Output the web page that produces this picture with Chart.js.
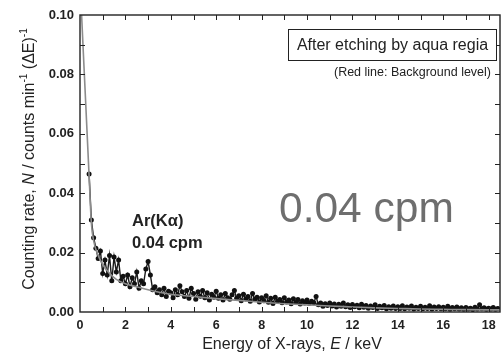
<!DOCTYPE html>
<html><head><meta charset="utf-8">
<script src="https://cdn.jsdelivr.net/npm/chart.js@4/dist/chart.umd.min.js"></script>
<style>html,body{margin:0;padding:0;background:#fff}#wrap{width:504px;height:354px;position:relative}</style>
</head><body><div id="wrap"><canvas id="c" width="504" height="354"></canvas></div>
<script>
// Measured spectrum: channel grid start/step (keV) and counting rates
const energyStart = 0.4;
const energyStep = 0.1;
const countRates = [
  0.0465, 0.031, 0.025, 0.0215, 0.018, 0.0205,
  0.013, 0.0175, 0.0125, 0.019, 0.0105, 0.0185, 0.0135, 0.0175, 0.0105, 0.012,
  0.0095, 0.0125, 0.0085, 0.0115, 0.0095, 0.0135, 0.008, 0.0105, 0.0095, 0.0145,
  0.017, 0.0125, 0.0075, 0.0085, 0.0065, 0.0075, 0.0058, 0.0080, 0.0052, 0.0070,
  0.0065, 0.0048, 0.0075, 0.0058, 0.0088, 0.0068, 0.0052, 0.0072, 0.0046, 0.0080,
  0.0062, 0.0043, 0.0068, 0.0053, 0.0072, 0.0048, 0.0065, 0.0040, 0.0060, 0.0050,
  0.0070, 0.0046, 0.0058, 0.0040, 0.0062, 0.0048, 0.0043, 0.0058, 0.0072, 0.0046,
  0.0055, 0.0038, 0.0060, 0.0044, 0.0052, 0.0036, 0.0062, 0.0043, 0.0050, 0.0034,
  0.0048, 0.0038, 0.0055, 0.0033, 0.0046, 0.0029, 0.0050, 0.0036, 0.0042, 0.0031,
  0.0048, 0.0034, 0.0040, 0.0028, 0.0045, 0.0032, 0.0042, 0.0027, 0.0038, 0.0030,
  0.0040, 0.0029, 0.0036, 0.0031, 0.0052, 0.0024, 0.0030, 0.0019, 0.0028, 0.0022,
  0.0030, 0.0020, 0.0027, 0.0017, 0.0026, 0.0019, 0.0030, 0.0018, 0.0024, 0.0015,
  0.0025, 0.0018, 0.0023, 0.0014, 0.0026, 0.0016, 0.0022, 0.0013, 0.0020, 0.0015,
  0.0024, 0.0012, 0.0019, 0.0014, 0.0022, 0.0011, 0.0018, 0.0013, 0.0020, 0.0012,
  0.0018, 0.0012, 0.0021, 0.0011, 0.0017, 0.0013, 0.0020, 0.0010, 0.0016, 0.0012,
  0.0019, 0.0011, 0.0016, 0.0012, 0.0021, 0.0010, 0.0017, 0.0012, 0.0018, 0.0011,
  0.0016, 0.0011, 0.0019, 0.0009, 0.0015, 0.0011, 0.0017, 0.0010, 0.0014, 0.0009,
  0.0015, 0.0010, 0.0013, 0.0008, 0.0016, 0.0010, 0.0024, 0.0011, 0.0014, 0.0009,
  0.0013, 0.0010, 0.0015, 0.0009, 0.0012
];
// Background level curve
const bgEnergy = [0.07, 0.4, 0.5, 0.6, 0.8, 1.0, 1.3, 1.6, 2.0, 2.5, 3.0, 4.0, 5.0, 6.0, 7.0, 8.0, 9.0, 10.0, 11.0, 12.0, 13.0, 14.0, 15.0, 16.0, 17.0, 18.5];
const bgRate   = [0.100, 0.046, 0.030, 0.024, 0.019, 0.016, 0.013, 0.011, 0.0095, 0.0085, 0.0075, 0.006, 0.0052, 0.0045, 0.0039, 0.0033, 0.0028, 0.0024, 0.0020, 0.0017, 0.0014, 0.0012, 0.0010, 0.0009, 0.0008, 0.0007];
const xTickLabels = ['0','2','4','6','8','10','12','14','16','18'];
const yTickLabels = ['0.00','0.02','0.04','0.06','0.08','0.10'];

const dataPts = countRates.map((v, i) => ({x: +(energyStart + i * energyStep).toFixed(2), y: v}));
const bgPts = bgEnergy.map((e, i) => ({x: e, y: bgRate[i]}));

const framePlugin = {
  id: 'frame',
  afterDatasetsDraw(chart) {
    const {ctx, chartArea: a, scales: {x, y}} = chart;
    ctx.save();
    ctx.strokeStyle = '#222';
    ctx.lineWidth = 1.4;
    ctx.strokeRect(a.left, a.top, a.right - a.left, a.bottom - a.top);
    ctx.lineWidth = 1;
    const L = 5;
    for (let e = 1; e <= 18; e++) {
      const px = Math.round(x.getPixelForValue(e)) + 0.5;
      ctx.beginPath();
      ctx.moveTo(px, a.bottom); ctx.lineTo(px, a.bottom - L);
      ctx.moveTo(px, a.top); ctx.lineTo(px, a.top + L);
      ctx.stroke();
    }
    for (let k = 1; k <= 9; k++) {
      const py = Math.round(y.getPixelForValue(k * 0.01)) + 0.5;
      ctx.beginPath();
      ctx.moveTo(a.left, py); ctx.lineTo(a.left + L, py);
      ctx.moveTo(a.right, py); ctx.lineTo(a.right - L, py);
      ctx.stroke();
    }
    ctx.restore();
  },
  afterDraw(chart) {
    const {ctx} = chart;
    ctx.save();
    ctx.fillStyle = '#222';
    const segsX = [['Energy of X-rays, ', 'normal'], ['E', 'italic'], [' / keV', 'normal']];
    drawSegs(ctx, segsX, 292, 349, 16, true);
    ctx.save();
    ctx.translate(34, 159);
    ctx.rotate(-Math.PI / 2);
    const segsY = [['Counting rate, ', 'normal'], ['N', 'italic'], [' / counts min', 'normal'], ['-1', 'sup'], [' (\u0394E)', 'normal'], ['-1', 'sup']];
    drawSegs(ctx, segsY, 0, 0, 16, true);
    ctx.restore();
    ctx.fillStyle = '#fff';
    ctx.fillRect(288.5, 29.5, 208, 31);
    ctx.strokeStyle = '#222'; ctx.lineWidth = 1;
    ctx.strokeRect(288.5, 29.5, 208, 31);
    ctx.fillStyle = '#222';
    ctx.font = '16px "Liberation Sans", Arial, sans-serif';
    ctx.textAlign = 'center'; ctx.textBaseline = 'middle';
    ctx.fillText('After etching by aqua regia', 392.5, 45.5);
    ctx.font = '12.5px "Liberation Sans", Arial, sans-serif';
    ctx.textAlign = 'right';
    ctx.fillText('(Red line: Background level)', 491, 72.5);
    ctx.textAlign = 'left';
    ctx.font = 'bold 16.5px "Liberation Sans", Arial, sans-serif';
    ctx.fillText('Ar(K\u03b1)', 132, 221);
    ctx.fillText('0.04 cpm', 132, 243);
    ctx.fillStyle = '#6e6e6e';
    ctx.font = '42.5px "Liberation Sans", Arial, sans-serif';
    ctx.textBaseline = 'alphabetic';
    ctx.fillText('0.04 cpm', 279, 222);
    ctx.restore();
  }
};

function drawSegs(ctx, segs, cx, baseY, size, center) {
  const fontFor = (st) => st === 'italic' ? `italic ${size}px "Liberation Sans", Arial, sans-serif`
    : st === 'sup' ? `${Math.round(size * 0.62)}px "Liberation Sans", Arial, sans-serif`
    : `${size}px "Liberation Sans", Arial, sans-serif`;
  let total = 0;
  for (const [t, st] of segs) { ctx.font = fontFor(st); total += ctx.measureText(t).width; }
  let xx = center ? cx - total / 2 : cx;
  ctx.textAlign = 'left'; ctx.textBaseline = 'alphabetic';
  for (const [t, st] of segs) {
    ctx.font = fontFor(st);
    ctx.fillText(t, xx, st === 'sup' ? baseY - size * 0.45 : baseY);
    xx += ctx.measureText(t).width;
  }
}

new Chart(document.getElementById('c'), {
  type: 'scatter',
  data: {
    datasets: [
      {
        label: 'Background', data: bgPts, showLine: true, order: 0,
        borderColor: '#8c8c8c', borderWidth: 1.6, pointRadius: 0,
        cubicInterpolationMode: 'monotone'
      },
      {
        label: 'Spectrum', data: dataPts, showLine: true, order: 1,
        borderColor: '#1a1a1a', borderWidth: 1.4, pointRadius: 2.5,
        pointBackgroundColor: '#111', pointBorderColor: '#111', pointBorderWidth: 0
      }
    ]
  },
  options: {
    responsive: false, animation: false, devicePixelRatio: 1,
    layout: {padding: {top: 15, right: 1, left: 0, bottom: 0}},
    plugins: {legend: {display: false}, tooltip: {enabled: false}},
    scales: {
      x: {
        type: 'linear', min: 0, max: 18.5,
        grid: {display: false, drawTicks: false}, border: {display: false},
        ticks: {
          stepSize: 2, includeBounds: false, padding: 6, maxRotation: 0, autoSkip: false,
          color: '#222', font: {family: '"Liberation Sans", Arial, sans-serif', size: 12.5, weight: 'bold'},
          callback: (v) => { const i = Math.round(v / 2); return (Math.abs(v - i * 2) < 1e-6 && xTickLabels[i] !== undefined) ? xTickLabels[i] : ''; }
        },
        afterFit: (s) => { s.height = 42; s.paddingRight = 0; s.paddingLeft = 0; }
      },
      y: {
        type: 'linear', min: 0, max: 0.1,
        grid: {display: false, drawTicks: false}, border: {display: false},
        ticks: {
          stepSize: 0.02, padding: 6, color: '#222',
          font: {family: '"Liberation Sans", Arial, sans-serif', size: 13, weight: 'bold'},
          callback: (v) => { const i = Math.round(v / 0.02); return yTickLabels[i] !== undefined ? yTickLabels[i] : ''; }
        },
        afterFit: (s) => { s.width = 80; s.paddingTop = 0; s.paddingBottom = 0; }
      }
    }
  },
  plugins: [framePlugin]
});
</script>
</body></html>
